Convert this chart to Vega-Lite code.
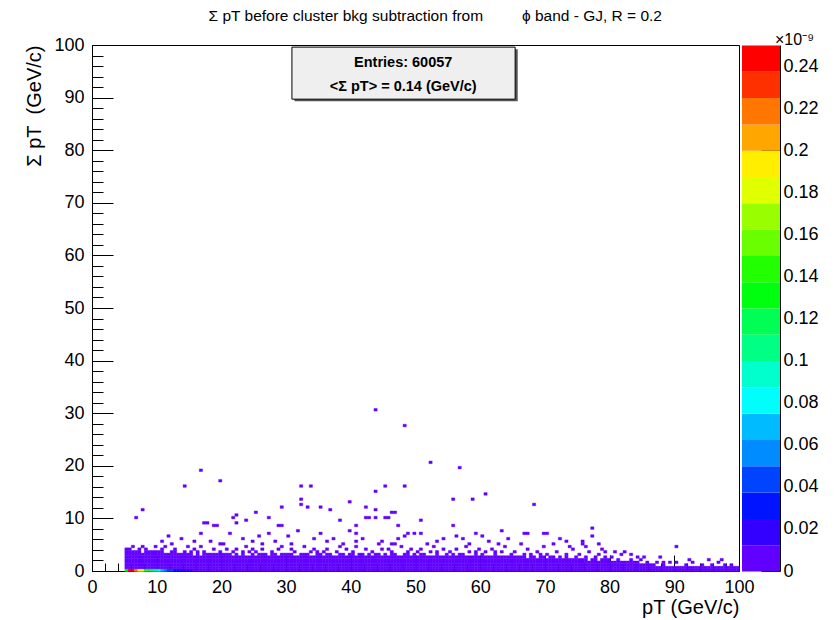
{
"$schema":"https://vega.github.io/schema/vega-lite/v6.json",
"padding":{"left":24,"top":8,"right":0,"bottom":0},
"bounds":"flush",
"spacing":3,
"title":{"text":"Σ pT before cluster bkg subtraction from\u00a0\u00a0\u00a0\u00a0\u00a0\u00a0\u00a0\u00a0 ϕ band - GJ, R = 0.2","anchor":"middle","dx":14,"fontSize":15.5,"fontWeight":"normal","font":"Liberation Sans","color":"black","offset":8},
"config":{"font":"Liberation Sans","axis":{"labelFont":"Liberation Sans","labelFontSize":18,"labelColor":"black","titleFont":"Liberation Sans","titleFontSize":20,"titleFontWeight":"normal","titleColor":"black","domainColor":"black","tickColor":"black","grid":false,"labelOverlap":false,"labelFlush":false,"zindex":1}},
"resolve":{"scale":{"x":"independent","y":"independent"}},
"datasets":{
"levels":[{"v":6.25},{"v":18.75},{"v":31.25},{"v":43.75},{"v":56.25},{"v":68.75},{"v":81.25},{"v":93.75},{"v":106.25},{"v":118.75},{"v":131.25},{"v":143.75},{"v":156.25},{"v":168.75},{"v":181.25},{"v":193.75},{"v":206.25},{"v":218.75},{"v":231.25},{"v":243.75}],
"cells":[
{"x":5,"y":0,"v":130},{"x":5,"y":0.5,"v":5},{"x":5,"y":1,"v":5},{"x":5,"y":1.5,"v":5},{"x":5,"y":2,"v":5},{"x":5,"y":2.5,"v":5},{"x":5,"y":3,"v":5},{"x":5,"y":3.5,"v":5},
{"x":5.5,"y":0,"v":245},{"x":5.5,"y":0.5,"v":5},{"x":5.5,"y":1,"v":5},{"x":5.5,"y":1.5,"v":5},{"x":5.5,"y":2,"v":5},{"x":5.5,"y":2.5,"v":5},{"x":5.5,"y":3,"v":5},{"x":5.5,"y":3.5,"v":5},
{"x":6,"y":0,"v":245},{"x":6,"y":0.5,"v":5},{"x":6,"y":1,"v":5},{"x":6,"y":1.5,"v":5},{"x":6,"y":2,"v":5},{"x":6,"y":2.5,"v":5},{"x":6,"y":3,"v":5},
{"x":6.5,"y":0,"v":215},{"x":6.5,"y":0.5,"v":5},{"x":6.5,"y":1,"v":5},{"x":6.5,"y":1.5,"v":5},{"x":6.5,"y":2,"v":5},{"x":6.5,"y":2.5,"v":5},{"x":6.5,"y":3,"v":5},{"x":6.5,"y":3.5,"v":5},
{"x":7,"y":0,"v":195},{"x":7,"y":0.5,"v":5},{"x":7,"y":1,"v":5},{"x":7,"y":1.5,"v":5},{"x":7,"y":2,"v":5},{"x":7,"y":2.5,"v":5},{"x":7,"y":3,"v":5},{"x":7,"y":3.5,"v":5},
{"x":7.5,"y":0,"v":180},{"x":7.5,"y":0.5,"v":5},{"x":7.5,"y":1,"v":5},{"x":7.5,"y":1.5,"v":5},{"x":7.5,"y":2,"v":5},{"x":7.5,"y":2.5,"v":5},{"x":7.5,"y":3,"v":5},
{"x":8,"y":0,"v":145},{"x":8,"y":0.5,"v":5},{"x":8,"y":1,"v":5},{"x":8,"y":1.5,"v":5},{"x":8,"y":2,"v":5},{"x":8,"y":2.5,"v":5},{"x":8,"y":3,"v":5},{"x":8,"y":3.5,"v":5},
{"x":8.5,"y":0,"v":130},{"x":8.5,"y":0.5,"v":5},{"x":8.5,"y":1,"v":5},{"x":8.5,"y":1.5,"v":5},{"x":8.5,"y":2,"v":5},{"x":8.5,"y":2.5,"v":5},{"x":8.5,"y":3,"v":5},
{"x":9,"y":0,"v":120},{"x":9,"y":0.5,"v":5},{"x":9,"y":1,"v":5},{"x":9,"y":1.5,"v":5},{"x":9,"y":2,"v":5},{"x":9,"y":2.5,"v":5},{"x":9,"y":3,"v":5},{"x":9,"y":3.5,"v":5},
{"x":9.5,"y":0,"v":105},{"x":9.5,"y":0.5,"v":5},{"x":9.5,"y":1,"v":5},{"x":9.5,"y":1.5,"v":5},{"x":9.5,"y":2,"v":5},{"x":9.5,"y":2.5,"v":5},{"x":9.5,"y":3,"v":5},
{"x":10,"y":0,"v":80},{"x":10,"y":0.5,"v":5},{"x":10,"y":1,"v":5},{"x":10,"y":1.5,"v":5},{"x":10,"y":2,"v":5},{"x":10,"y":2.5,"v":5},{"x":10,"y":3,"v":5},
{"x":10.5,"y":0,"v":70},{"x":10.5,"y":0.5,"v":5},{"x":10.5,"y":1,"v":5},{"x":10.5,"y":1.5,"v":5},{"x":10.5,"y":2,"v":5},{"x":10.5,"y":2.5,"v":5},{"x":10.5,"y":3,"v":5},{"x":10.5,"y":3.5,"v":5},
{"x":11,"y":0,"v":55},{"x":11,"y":0.5,"v":5},{"x":11,"y":1,"v":5},{"x":11,"y":1.5,"v":5},{"x":11,"y":2,"v":5},{"x":11,"y":2.5,"v":5},
{"x":11.5,"y":0,"v":45},{"x":11.5,"y":0.5,"v":5},{"x":11.5,"y":1,"v":5},{"x":11.5,"y":1.5,"v":5},{"x":11.5,"y":2,"v":5},{"x":11.5,"y":2.5,"v":5},{"x":11.5,"y":3,"v":5},
{"x":12,"y":0,"v":40},{"x":12,"y":0.5,"v":5},{"x":12,"y":1,"v":5},{"x":12,"y":1.5,"v":5},{"x":12,"y":2,"v":5},{"x":12,"y":2.5,"v":5},{"x":12,"y":3,"v":5},
{"x":12.5,"y":0,"v":30},{"x":12.5,"y":0.5,"v":5},{"x":12.5,"y":1,"v":5},{"x":12.5,"y":1.5,"v":5},{"x":12.5,"y":2,"v":5},{"x":12.5,"y":2.5,"v":5},{"x":12.5,"y":3,"v":5},{"x":12.5,"y":3.5,"v":5},
{"x":13,"y":0,"v":27},{"x":13,"y":0.5,"v":5},{"x":13,"y":1,"v":5},{"x":13,"y":1.5,"v":5},{"x":13,"y":2,"v":5},{"x":13,"y":2.5,"v":5},
{"x":13.5,"y":0,"v":20},{"x":13.5,"y":0.5,"v":5},{"x":13.5,"y":1,"v":5},{"x":13.5,"y":1.5,"v":5},{"x":13.5,"y":2,"v":5},{"x":13.5,"y":2.5,"v":5},{"x":13.5,"y":3,"v":5},
{"x":14,"y":0,"v":18},{"x":14,"y":0.5,"v":5},{"x":14,"y":1,"v":5},{"x":14,"y":1.5,"v":5},{"x":14,"y":2,"v":5},{"x":14,"y":2.5,"v":5},{"x":14,"y":3,"v":5},
{"x":14.5,"y":0,"v":15},{"x":14.5,"y":0.5,"v":5},{"x":14.5,"y":1,"v":5},{"x":14.5,"y":1.5,"v":5},{"x":14.5,"y":2,"v":5},{"x":14.5,"y":2.5,"v":5},
{"x":15,"y":0,"v":13},{"x":15,"y":0.5,"v":5},{"x":15,"y":1,"v":5},{"x":15,"y":1.5,"v":5},{"x":15,"y":2,"v":5},{"x":15,"y":2.5,"v":5},{"x":15,"y":3,"v":5},
{"x":15.5,"y":0,"v":5},{"x":15.5,"y":0.5,"v":5},{"x":15.5,"y":1,"v":5},{"x":15.5,"y":1.5,"v":5},{"x":15.5,"y":2,"v":5},{"x":15.5,"y":2.5,"v":5},
{"x":16,"y":0,"v":5},{"x":16,"y":0.5,"v":5},{"x":16,"y":1,"v":5},{"x":16,"y":1.5,"v":5},{"x":16,"y":2,"v":5},{"x":16,"y":2.5,"v":5},{"x":16,"y":3,"v":5},
{"x":16.5,"y":0,"v":5},{"x":16.5,"y":0.5,"v":5},{"x":16.5,"y":1,"v":5},{"x":16.5,"y":1.5,"v":5},{"x":16.5,"y":2,"v":5},{"x":16.5,"y":2.5,"v":5},
{"x":17,"y":0,"v":5},{"x":17,"y":0.5,"v":5},{"x":17,"y":1,"v":5},{"x":17,"y":1.5,"v":5},{"x":17,"y":2,"v":5},{"x":17,"y":2.5,"v":5},{"x":17,"y":3,"v":5},
{"x":17.5,"y":0,"v":5},{"x":17.5,"y":0.5,"v":5},{"x":17.5,"y":1,"v":5},{"x":17.5,"y":1.5,"v":5},{"x":17.5,"y":2,"v":5},{"x":17.5,"y":2.5,"v":5},{"x":17.5,"y":3,"v":5},
{"x":18,"y":0,"v":5},{"x":18,"y":0.5,"v":5},{"x":18,"y":1,"v":5},{"x":18,"y":1.5,"v":5},{"x":18,"y":2,"v":5},{"x":18,"y":2.5,"v":5},
{"x":18.5,"y":0,"v":5},{"x":18.5,"y":0.5,"v":5},{"x":18.5,"y":1,"v":5},{"x":18.5,"y":1.5,"v":5},{"x":18.5,"y":2,"v":5},{"x":18.5,"y":2.5,"v":5},{"x":18.5,"y":3,"v":5},
{"x":19,"y":0,"v":5},{"x":19,"y":0.5,"v":5},{"x":19,"y":1,"v":5},{"x":19,"y":1.5,"v":5},{"x":19,"y":2,"v":5},{"x":19,"y":2.5,"v":5},
{"x":19.5,"y":0,"v":5},{"x":19.5,"y":0.5,"v":5},{"x":19.5,"y":1,"v":5},{"x":19.5,"y":1.5,"v":5},{"x":19.5,"y":2,"v":5},{"x":19.5,"y":2.5,"v":5},{"x":19.5,"y":3,"v":5},
{"x":20,"y":0,"v":5},{"x":20,"y":0.5,"v":5},{"x":20,"y":1,"v":5},{"x":20,"y":1.5,"v":5},{"x":20,"y":2,"v":5},{"x":20,"y":2.5,"v":5},
{"x":20.5,"y":0,"v":5},{"x":20.5,"y":0.5,"v":5},{"x":20.5,"y":1,"v":5},{"x":20.5,"y":1.5,"v":5},{"x":20.5,"y":2,"v":5},{"x":20.5,"y":2.5,"v":5},{"x":20.5,"y":3,"v":5},
{"x":21,"y":0,"v":5},{"x":21,"y":0.5,"v":5},{"x":21,"y":1,"v":5},{"x":21,"y":1.5,"v":5},{"x":21,"y":2,"v":5},{"x":21,"y":2.5,"v":5},
{"x":21.5,"y":0,"v":5},{"x":21.5,"y":0.5,"v":5},{"x":21.5,"y":1,"v":5},{"x":21.5,"y":1.5,"v":5},{"x":21.5,"y":2,"v":5},{"x":21.5,"y":2.5,"v":5},
{"x":22,"y":0,"v":5},{"x":22,"y":0.5,"v":5},{"x":22,"y":1,"v":5},{"x":22,"y":1.5,"v":5},{"x":22,"y":2,"v":5},{"x":22,"y":2.5,"v":5},{"x":22,"y":3,"v":5},
{"x":22.5,"y":0,"v":5},{"x":22.5,"y":0.5,"v":5},{"x":22.5,"y":1,"v":5},{"x":22.5,"y":1.5,"v":5},{"x":22.5,"y":2,"v":5},{"x":22.5,"y":2.5,"v":5},
{"x":23,"y":0,"v":5},{"x":23,"y":0.5,"v":5},{"x":23,"y":1,"v":5},{"x":23,"y":1.5,"v":5},{"x":23,"y":2,"v":5},{"x":23,"y":2.5,"v":5},{"x":23,"y":3,"v":5},
{"x":23.5,"y":0,"v":5},{"x":23.5,"y":0.5,"v":5},{"x":23.5,"y":1,"v":5},{"x":23.5,"y":1.5,"v":5},{"x":23.5,"y":2,"v":5},{"x":23.5,"y":2.5,"v":5},
{"x":24,"y":0,"v":5},{"x":24,"y":0.5,"v":5},{"x":24,"y":1,"v":5},{"x":24,"y":1.5,"v":5},{"x":24,"y":2,"v":5},{"x":24,"y":2.5,"v":5},
{"x":24.5,"y":0,"v":5},{"x":24.5,"y":0.5,"v":5},{"x":24.5,"y":1,"v":5},{"x":24.5,"y":1.5,"v":5},{"x":24.5,"y":2,"v":5},{"x":24.5,"y":2.5,"v":5},{"x":24.5,"y":3,"v":5},
{"x":25,"y":0,"v":5},{"x":25,"y":0.5,"v":5},{"x":25,"y":1,"v":5},{"x":25,"y":1.5,"v":5},{"x":25,"y":2,"v":5},{"x":25,"y":2.5,"v":5},
{"x":25.5,"y":0,"v":5},{"x":25.5,"y":0.5,"v":5},{"x":25.5,"y":1,"v":5},{"x":25.5,"y":1.5,"v":5},{"x":25.5,"y":2,"v":5},{"x":25.5,"y":2.5,"v":5},
{"x":26,"y":0,"v":5},{"x":26,"y":0.5,"v":5},{"x":26,"y":1,"v":5},{"x":26,"y":1.5,"v":5},{"x":26,"y":2,"v":5},{"x":26,"y":2.5,"v":5},{"x":26,"y":3,"v":5},
{"x":26.5,"y":0,"v":5},{"x":26.5,"y":0.5,"v":5},{"x":26.5,"y":1,"v":5},{"x":26.5,"y":1.5,"v":5},{"x":26.5,"y":2,"v":5},{"x":26.5,"y":2.5,"v":5},
{"x":27,"y":0,"v":5},{"x":27,"y":0.5,"v":5},{"x":27,"y":1,"v":5},{"x":27,"y":1.5,"v":5},{"x":27,"y":2,"v":5},{"x":27,"y":2.5,"v":5},
{"x":27.5,"y":0,"v":5},{"x":27.5,"y":0.5,"v":5},{"x":27.5,"y":1,"v":5},{"x":27.5,"y":1.5,"v":5},{"x":27.5,"y":2,"v":5},{"x":27.5,"y":2.5,"v":5},{"x":27.5,"y":3,"v":5},
{"x":28,"y":0,"v":5},{"x":28,"y":0.5,"v":5},{"x":28,"y":1,"v":5},{"x":28,"y":1.5,"v":5},{"x":28,"y":2,"v":5},{"x":28,"y":2.5,"v":5},
{"x":28.5,"y":0,"v":5},{"x":28.5,"y":0.5,"v":5},{"x":28.5,"y":1,"v":5},{"x":28.5,"y":1.5,"v":5},{"x":28.5,"y":2,"v":5},{"x":28.5,"y":2.5,"v":5},
{"x":29,"y":0,"v":5},{"x":29,"y":0.5,"v":5},{"x":29,"y":1,"v":5},{"x":29,"y":1.5,"v":5},{"x":29,"y":2,"v":5},{"x":29,"y":2.5,"v":5},{"x":29,"y":3,"v":5},
{"x":29.5,"y":0,"v":5},{"x":29.5,"y":0.5,"v":5},{"x":29.5,"y":1,"v":5},{"x":29.5,"y":1.5,"v":5},{"x":29.5,"y":2,"v":5},{"x":29.5,"y":2.5,"v":5},
{"x":30,"y":0,"v":5},{"x":30,"y":0.5,"v":5},{"x":30,"y":1,"v":5},{"x":30,"y":1.5,"v":5},{"x":30,"y":2,"v":5},{"x":30,"y":2.5,"v":5},
{"x":30.5,"y":0,"v":5},{"x":30.5,"y":0.5,"v":5},{"x":30.5,"y":1,"v":5},{"x":30.5,"y":1.5,"v":5},{"x":30.5,"y":2,"v":5},{"x":30.5,"y":2.5,"v":5},{"x":30.5,"y":3,"v":5},
{"x":31,"y":0,"v":5},{"x":31,"y":0.5,"v":5},{"x":31,"y":1,"v":5},{"x":31,"y":1.5,"v":5},{"x":31,"y":2,"v":5},{"x":31,"y":2.5,"v":5},
{"x":31.5,"y":0,"v":5},{"x":31.5,"y":0.5,"v":5},{"x":31.5,"y":1,"v":5},{"x":31.5,"y":1.5,"v":5},{"x":31.5,"y":2,"v":5},{"x":31.5,"y":2.5,"v":5},
{"x":32,"y":0,"v":5},{"x":32,"y":0.5,"v":5},{"x":32,"y":1,"v":5},{"x":32,"y":1.5,"v":5},{"x":32,"y":2,"v":5},{"x":32,"y":2.5,"v":5},
{"x":32.5,"y":0,"v":5},{"x":32.5,"y":0.5,"v":5},{"x":32.5,"y":1,"v":5},{"x":32.5,"y":1.5,"v":5},{"x":32.5,"y":2,"v":5},{"x":32.5,"y":2.5,"v":5},{"x":32.5,"y":3,"v":5},
{"x":33,"y":0,"v":5},{"x":33,"y":0.5,"v":5},{"x":33,"y":1,"v":5},{"x":33,"y":1.5,"v":5},{"x":33,"y":2,"v":5},{"x":33,"y":2.5,"v":5},
{"x":33.5,"y":0,"v":5},{"x":33.5,"y":0.5,"v":5},{"x":33.5,"y":1,"v":5},{"x":33.5,"y":1.5,"v":5},{"x":33.5,"y":2,"v":5},{"x":33.5,"y":2.5,"v":5},
{"x":34,"y":0,"v":5},{"x":34,"y":0.5,"v":5},{"x":34,"y":1,"v":5},{"x":34,"y":1.5,"v":5},{"x":34,"y":2,"v":5},{"x":34,"y":2.5,"v":5},
{"x":34.5,"y":0,"v":5},{"x":34.5,"y":0.5,"v":5},{"x":34.5,"y":1,"v":5},{"x":34.5,"y":1.5,"v":5},{"x":34.5,"y":2,"v":5},{"x":34.5,"y":2.5,"v":5},{"x":34.5,"y":3,"v":5},
{"x":35,"y":0,"v":5},{"x":35,"y":0.5,"v":5},{"x":35,"y":1,"v":5},{"x":35,"y":1.5,"v":5},{"x":35,"y":2,"v":5},{"x":35,"y":2.5,"v":5},
{"x":35.5,"y":0,"v":5},{"x":35.5,"y":0.5,"v":5},{"x":35.5,"y":1,"v":5},{"x":35.5,"y":1.5,"v":5},{"x":35.5,"y":2,"v":5},{"x":35.5,"y":2.5,"v":5},
{"x":36,"y":0,"v":5},{"x":36,"y":0.5,"v":5},{"x":36,"y":1,"v":5},{"x":36,"y":1.5,"v":5},{"x":36,"y":2,"v":5},{"x":36,"y":2.5,"v":5},{"x":36,"y":3,"v":5},
{"x":36.5,"y":0,"v":5},{"x":36.5,"y":0.5,"v":5},{"x":36.5,"y":1,"v":5},{"x":36.5,"y":1.5,"v":5},{"x":36.5,"y":2,"v":5},{"x":36.5,"y":2.5,"v":5},
{"x":37,"y":0,"v":5},{"x":37,"y":0.5,"v":5},{"x":37,"y":1,"v":5},{"x":37,"y":1.5,"v":5},{"x":37,"y":2,"v":5},{"x":37,"y":2.5,"v":5},
{"x":37.5,"y":0,"v":5},{"x":37.5,"y":0.5,"v":5},{"x":37.5,"y":1,"v":5},{"x":37.5,"y":1.5,"v":5},{"x":37.5,"y":2,"v":5},{"x":37.5,"y":2.5,"v":5},
{"x":38,"y":0,"v":5},{"x":38,"y":0.5,"v":5},{"x":38,"y":1,"v":5},{"x":38,"y":1.5,"v":5},{"x":38,"y":2,"v":5},{"x":38,"y":2.5,"v":5},{"x":38,"y":3,"v":5},
{"x":38.5,"y":0,"v":5},{"x":38.5,"y":0.5,"v":5},{"x":38.5,"y":1,"v":5},{"x":38.5,"y":1.5,"v":5},{"x":38.5,"y":2,"v":5},{"x":38.5,"y":2.5,"v":5},
{"x":39,"y":0,"v":5},{"x":39,"y":0.5,"v":5},{"x":39,"y":1,"v":5},{"x":39,"y":1.5,"v":5},{"x":39,"y":2,"v":5},{"x":39,"y":2.5,"v":5},
{"x":39.5,"y":0,"v":5},{"x":39.5,"y":0.5,"v":5},{"x":39.5,"y":1,"v":5},{"x":39.5,"y":1.5,"v":5},{"x":39.5,"y":2,"v":5},{"x":39.5,"y":2.5,"v":5},
{"x":40,"y":0,"v":5},{"x":40,"y":0.5,"v":5},{"x":40,"y":1,"v":5},{"x":40,"y":1.5,"v":5},{"x":40,"y":2,"v":5},{"x":40,"y":2.5,"v":5},{"x":40,"y":3,"v":5},
{"x":40.5,"y":0,"v":5},{"x":40.5,"y":0.5,"v":5},{"x":40.5,"y":1,"v":5},{"x":40.5,"y":1.5,"v":5},{"x":40.5,"y":2,"v":5},{"x":40.5,"y":2.5,"v":5},
{"x":41,"y":0,"v":5},{"x":41,"y":0.5,"v":5},{"x":41,"y":1,"v":5},{"x":41,"y":1.5,"v":5},{"x":41,"y":2,"v":5},{"x":41,"y":2.5,"v":5},
{"x":41.5,"y":0,"v":5},{"x":41.5,"y":0.5,"v":5},{"x":41.5,"y":1,"v":5},{"x":41.5,"y":1.5,"v":5},{"x":41.5,"y":2,"v":5},{"x":41.5,"y":2.5,"v":5},{"x":41.5,"y":3,"v":5},
{"x":42,"y":0,"v":5},{"x":42,"y":0.5,"v":5},{"x":42,"y":1,"v":5},{"x":42,"y":1.5,"v":5},{"x":42,"y":2,"v":5},{"x":42,"y":2.5,"v":5},
{"x":42.5,"y":0,"v":5},{"x":42.5,"y":0.5,"v":5},{"x":42.5,"y":1,"v":5},{"x":42.5,"y":1.5,"v":5},{"x":42.5,"y":2,"v":5},{"x":42.5,"y":2.5,"v":5},
{"x":43,"y":0,"v":5},{"x":43,"y":0.5,"v":5},{"x":43,"y":1,"v":5},{"x":43,"y":1.5,"v":5},{"x":43,"y":2,"v":5},{"x":43,"y":2.5,"v":5},
{"x":43.5,"y":0,"v":5},{"x":43.5,"y":0.5,"v":5},{"x":43.5,"y":1,"v":5},{"x":43.5,"y":1.5,"v":5},{"x":43.5,"y":2,"v":5},{"x":43.5,"y":2.5,"v":5},{"x":43.5,"y":3,"v":5},
{"x":44,"y":0,"v":5},{"x":44,"y":0.5,"v":5},{"x":44,"y":1,"v":5},{"x":44,"y":1.5,"v":5},{"x":44,"y":2,"v":5},{"x":44,"y":2.5,"v":5},
{"x":44.5,"y":0,"v":5},{"x":44.5,"y":0.5,"v":5},{"x":44.5,"y":1,"v":5},{"x":44.5,"y":1.5,"v":5},{"x":44.5,"y":2,"v":5},{"x":44.5,"y":2.5,"v":5},
{"x":45,"y":0,"v":5},{"x":45,"y":0.5,"v":5},{"x":45,"y":1,"v":5},{"x":45,"y":1.5,"v":5},{"x":45,"y":2,"v":5},{"x":45,"y":2.5,"v":5},
{"x":45.5,"y":0,"v":5},{"x":45.5,"y":0.5,"v":5},{"x":45.5,"y":1,"v":5},{"x":45.5,"y":1.5,"v":5},{"x":45.5,"y":2,"v":5},{"x":45.5,"y":2.5,"v":5},
{"x":46,"y":0,"v":5},{"x":46,"y":0.5,"v":5},{"x":46,"y":1,"v":5},{"x":46,"y":1.5,"v":5},{"x":46,"y":2,"v":5},{"x":46,"y":2.5,"v":5},{"x":46,"y":3,"v":5},
{"x":46.5,"y":0,"v":5},{"x":46.5,"y":0.5,"v":5},{"x":46.5,"y":1,"v":5},{"x":46.5,"y":1.5,"v":5},{"x":46.5,"y":2,"v":5},{"x":46.5,"y":2.5,"v":5},
{"x":47,"y":0,"v":5},{"x":47,"y":0.5,"v":5},{"x":47,"y":1,"v":5},{"x":47,"y":1.5,"v":5},{"x":47,"y":2,"v":5},{"x":47,"y":2.5,"v":5},
{"x":47.5,"y":0,"v":5},{"x":47.5,"y":0.5,"v":5},{"x":47.5,"y":1,"v":5},{"x":47.5,"y":1.5,"v":5},{"x":47.5,"y":2,"v":5},{"x":47.5,"y":2.5,"v":5},
{"x":48,"y":0,"v":5},{"x":48,"y":0.5,"v":5},{"x":48,"y":1,"v":5},{"x":48,"y":1.5,"v":5},{"x":48,"y":2,"v":5},{"x":48,"y":2.5,"v":5},
{"x":48.5,"y":0,"v":5},{"x":48.5,"y":0.5,"v":5},{"x":48.5,"y":1,"v":5},{"x":48.5,"y":1.5,"v":5},{"x":48.5,"y":2,"v":5},{"x":48.5,"y":2.5,"v":5},{"x":48.5,"y":3,"v":5},
{"x":49,"y":0,"v":5},{"x":49,"y":0.5,"v":5},{"x":49,"y":1,"v":5},{"x":49,"y":1.5,"v":5},{"x":49,"y":2,"v":5},{"x":49,"y":2.5,"v":5},
{"x":49.5,"y":0,"v":5},{"x":49.5,"y":0.5,"v":5},{"x":49.5,"y":1,"v":5},{"x":49.5,"y":1.5,"v":5},{"x":49.5,"y":2,"v":5},{"x":49.5,"y":2.5,"v":5},
{"x":50,"y":0,"v":5},{"x":50,"y":0.5,"v":5},{"x":50,"y":1,"v":5},{"x":50,"y":1.5,"v":5},{"x":50,"y":2,"v":5},{"x":50,"y":2.5,"v":5},
{"x":50.5,"y":0,"v":5},{"x":50.5,"y":0.5,"v":5},{"x":50.5,"y":1,"v":5},{"x":50.5,"y":1.5,"v":5},{"x":50.5,"y":2,"v":5},{"x":50.5,"y":2.5,"v":5},{"x":50.5,"y":3,"v":5},
{"x":51,"y":0,"v":5},{"x":51,"y":0.5,"v":5},{"x":51,"y":1,"v":5},{"x":51,"y":1.5,"v":5},{"x":51,"y":2,"v":5},{"x":51,"y":2.5,"v":5},
{"x":51.5,"y":0,"v":5},{"x":51.5,"y":0.5,"v":5},{"x":51.5,"y":1,"v":5},{"x":51.5,"y":1.5,"v":5},{"x":51.5,"y":2,"v":5},{"x":51.5,"y":2.5,"v":5},
{"x":52,"y":0,"v":5},{"x":52,"y":0.5,"v":5},{"x":52,"y":1,"v":5},{"x":52,"y":1.5,"v":5},{"x":52,"y":2,"v":5},{"x":52,"y":2.5,"v":5},
{"x":52.5,"y":0,"v":5},{"x":52.5,"y":0.5,"v":5},{"x":52.5,"y":1,"v":5},{"x":52.5,"y":1.5,"v":5},{"x":52.5,"y":2,"v":5},{"x":52.5,"y":2.5,"v":5},
{"x":53,"y":0,"v":5},{"x":53,"y":0.5,"v":5},{"x":53,"y":1,"v":5},{"x":53,"y":1.5,"v":5},{"x":53,"y":2,"v":5},{"x":53,"y":2.5,"v":5},{"x":53,"y":3,"v":5},
{"x":53.5,"y":0,"v":5},{"x":53.5,"y":0.5,"v":5},{"x":53.5,"y":1,"v":5},{"x":53.5,"y":1.5,"v":5},{"x":53.5,"y":2,"v":5},{"x":53.5,"y":2.5,"v":5},
{"x":54,"y":0,"v":5},{"x":54,"y":0.5,"v":5},{"x":54,"y":1,"v":5},{"x":54,"y":1.5,"v":5},{"x":54,"y":2,"v":5},{"x":54,"y":2.5,"v":5},
{"x":54.5,"y":0,"v":5},{"x":54.5,"y":0.5,"v":5},{"x":54.5,"y":1,"v":5},{"x":54.5,"y":1.5,"v":5},{"x":54.5,"y":2,"v":5},{"x":54.5,"y":2.5,"v":5},
{"x":55,"y":0,"v":5},{"x":55,"y":0.5,"v":5},{"x":55,"y":1,"v":5},{"x":55,"y":1.5,"v":5},{"x":55,"y":2,"v":5},{"x":55,"y":2.5,"v":5},
{"x":55.5,"y":0,"v":5},{"x":55.5,"y":0.5,"v":5},{"x":55.5,"y":1,"v":5},{"x":55.5,"y":1.5,"v":5},{"x":55.5,"y":2,"v":5},{"x":55.5,"y":2.5,"v":5},
{"x":56,"y":0,"v":5},{"x":56,"y":0.5,"v":5},{"x":56,"y":1,"v":5},{"x":56,"y":1.5,"v":5},{"x":56,"y":2,"v":5},{"x":56,"y":2.5,"v":5},
{"x":56.5,"y":0,"v":5},{"x":56.5,"y":0.5,"v":5},{"x":56.5,"y":1,"v":5},{"x":56.5,"y":1.5,"v":5},{"x":56.5,"y":2,"v":5},{"x":56.5,"y":2.5,"v":5},{"x":56.5,"y":3,"v":5},
{"x":57,"y":0,"v":5},{"x":57,"y":0.5,"v":5},{"x":57,"y":1,"v":5},{"x":57,"y":1.5,"v":5},{"x":57,"y":2,"v":5},{"x":57,"y":2.5,"v":5},
{"x":57.5,"y":0,"v":5},{"x":57.5,"y":0.5,"v":5},{"x":57.5,"y":1,"v":5},{"x":57.5,"y":1.5,"v":5},{"x":57.5,"y":2,"v":5},{"x":57.5,"y":2.5,"v":5},
{"x":58,"y":0,"v":5},{"x":58,"y":0.5,"v":5},{"x":58,"y":1,"v":5},{"x":58,"y":1.5,"v":5},{"x":58,"y":2,"v":5},{"x":58,"y":2.5,"v":5},
{"x":58.5,"y":0,"v":5},{"x":58.5,"y":0.5,"v":5},{"x":58.5,"y":1,"v":5},{"x":58.5,"y":1.5,"v":5},{"x":58.5,"y":2,"v":5},{"x":58.5,"y":2.5,"v":5},
{"x":59,"y":0,"v":5},{"x":59,"y":0.5,"v":5},{"x":59,"y":1,"v":5},{"x":59,"y":1.5,"v":5},{"x":59,"y":2,"v":5},{"x":59,"y":2.5,"v":5},{"x":59,"y":3,"v":5},
{"x":59.5,"y":0,"v":5},{"x":59.5,"y":0.5,"v":5},{"x":59.5,"y":1,"v":5},{"x":59.5,"y":1.5,"v":5},{"x":59.5,"y":2,"v":5},{"x":59.5,"y":2.5,"v":5},
{"x":60,"y":0,"v":5},{"x":60,"y":0.5,"v":5},{"x":60,"y":1,"v":5},{"x":60,"y":1.5,"v":5},{"x":60,"y":2,"v":5},{"x":60,"y":2.5,"v":5},
{"x":60.5,"y":0,"v":5},{"x":60.5,"y":0.5,"v":5},{"x":60.5,"y":1,"v":5},{"x":60.5,"y":1.5,"v":5},{"x":60.5,"y":2,"v":5},{"x":60.5,"y":2.5,"v":5},
{"x":61,"y":0,"v":5},{"x":61,"y":0.5,"v":5},{"x":61,"y":1,"v":5},{"x":61,"y":1.5,"v":5},{"x":61,"y":2,"v":5},{"x":61,"y":2.5,"v":5},
{"x":61.5,"y":0,"v":5},{"x":61.5,"y":0.5,"v":5},{"x":61.5,"y":1,"v":5},{"x":61.5,"y":1.5,"v":5},{"x":61.5,"y":2,"v":5},{"x":61.5,"y":2.5,"v":5},
{"x":62,"y":0,"v":5},{"x":62,"y":0.5,"v":5},{"x":62,"y":1,"v":5},{"x":62,"y":1.5,"v":5},{"x":62,"y":2,"v":5},{"x":62,"y":2.5,"v":5},{"x":62,"y":3,"v":5},
{"x":62.5,"y":0,"v":5},{"x":62.5,"y":0.5,"v":5},{"x":62.5,"y":1,"v":5},{"x":62.5,"y":1.5,"v":5},{"x":62.5,"y":2,"v":5},{"x":62.5,"y":2.5,"v":5},
{"x":63,"y":0,"v":5},{"x":63,"y":0.5,"v":5},{"x":63,"y":1,"v":5},{"x":63,"y":1.5,"v":5},{"x":63,"y":2,"v":5},{"x":63,"y":2.5,"v":5},
{"x":63.5,"y":0,"v":5},{"x":63.5,"y":0.5,"v":5},{"x":63.5,"y":1,"v":5},{"x":63.5,"y":1.5,"v":5},{"x":63.5,"y":2,"v":5},{"x":63.5,"y":2.5,"v":5},
{"x":64,"y":0,"v":5},{"x":64,"y":0.5,"v":5},{"x":64,"y":1,"v":5},{"x":64,"y":1.5,"v":5},{"x":64,"y":2,"v":5},{"x":64,"y":2.5,"v":5},
{"x":64.5,"y":0,"v":5},{"x":64.5,"y":0.5,"v":5},{"x":64.5,"y":1,"v":5},{"x":64.5,"y":1.5,"v":5},{"x":64.5,"y":2,"v":5},{"x":64.5,"y":2.5,"v":5},
{"x":65,"y":0,"v":5},{"x":65,"y":0.5,"v":5},{"x":65,"y":1,"v":5},{"x":65,"y":1.5,"v":5},{"x":65,"y":2,"v":5},{"x":65,"y":2.5,"v":5},
{"x":65.5,"y":0,"v":5},{"x":65.5,"y":0.5,"v":5},{"x":65.5,"y":1,"v":5},{"x":65.5,"y":1.5,"v":5},{"x":65.5,"y":2,"v":5},
{"x":66,"y":0,"v":5},{"x":66,"y":0.5,"v":5},{"x":66,"y":1,"v":5},{"x":66,"y":1.5,"v":5},{"x":66,"y":2,"v":5},{"x":66,"y":2.5,"v":5},
{"x":66.5,"y":0,"v":5},{"x":66.5,"y":0.5,"v":5},{"x":66.5,"y":1,"v":5},{"x":66.5,"y":1.5,"v":5},{"x":66.5,"y":2,"v":5},{"x":66.5,"y":2.5,"v":5},
{"x":67,"y":0,"v":5},{"x":67,"y":0.5,"v":5},{"x":67,"y":1,"v":5},{"x":67,"y":1.5,"v":5},{"x":67,"y":2,"v":5},
{"x":67.5,"y":0,"v":5},{"x":67.5,"y":0.5,"v":5},{"x":67.5,"y":1,"v":5},{"x":67.5,"y":1.5,"v":5},{"x":67.5,"y":2,"v":5},{"x":67.5,"y":2.5,"v":5},
{"x":68,"y":0,"v":5},{"x":68,"y":0.5,"v":5},{"x":68,"y":1,"v":5},{"x":68,"y":1.5,"v":5},{"x":68,"y":2,"v":5},{"x":68,"y":2.5,"v":5},
{"x":68.5,"y":0,"v":5},{"x":68.5,"y":0.5,"v":5},{"x":68.5,"y":1,"v":5},{"x":68.5,"y":1.5,"v":5},{"x":68.5,"y":2,"v":5},
{"x":69,"y":0,"v":5},{"x":69,"y":0.5,"v":5},{"x":69,"y":1,"v":5},{"x":69,"y":1.5,"v":5},{"x":69,"y":2,"v":5},{"x":69,"y":2.5,"v":5},
{"x":69.5,"y":0,"v":5},{"x":69.5,"y":0.5,"v":5},{"x":69.5,"y":1,"v":5},{"x":69.5,"y":1.5,"v":5},{"x":69.5,"y":2,"v":5},{"x":69.5,"y":2.5,"v":5},
{"x":70,"y":0,"v":5},{"x":70,"y":0.5,"v":5},{"x":70,"y":1,"v":5},{"x":70,"y":1.5,"v":5},{"x":70,"y":2,"v":5},
{"x":70.5,"y":0,"v":5},{"x":70.5,"y":0.5,"v":5},{"x":70.5,"y":1,"v":5},{"x":70.5,"y":1.5,"v":5},{"x":70.5,"y":2,"v":5},
{"x":71,"y":0,"v":5},{"x":71,"y":0.5,"v":5},{"x":71,"y":1,"v":5},{"x":71,"y":1.5,"v":5},{"x":71,"y":2,"v":5},{"x":71,"y":2.5,"v":5},
{"x":71.5,"y":0,"v":5},{"x":71.5,"y":0.5,"v":5},{"x":71.5,"y":1,"v":5},{"x":71.5,"y":1.5,"v":5},{"x":71.5,"y":2,"v":5},
{"x":72,"y":0,"v":5},{"x":72,"y":0.5,"v":5},{"x":72,"y":1,"v":5},{"x":72,"y":1.5,"v":5},{"x":72,"y":2,"v":5},
{"x":72.5,"y":0,"v":5},{"x":72.5,"y":0.5,"v":5},{"x":72.5,"y":1,"v":5},{"x":72.5,"y":1.5,"v":5},{"x":72.5,"y":2,"v":5},
{"x":73,"y":0,"v":5},{"x":73,"y":0.5,"v":5},{"x":73,"y":1,"v":5},{"x":73,"y":1.5,"v":5},{"x":73,"y":2,"v":5},{"x":73,"y":2.5,"v":5},
{"x":73.5,"y":0,"v":5},{"x":73.5,"y":0.5,"v":5},{"x":73.5,"y":1,"v":5},{"x":73.5,"y":1.5,"v":5},{"x":73.5,"y":2,"v":5},
{"x":74,"y":0,"v":5},{"x":74,"y":0.5,"v":5},{"x":74,"y":1,"v":5},{"x":74,"y":1.5,"v":5},{"x":74,"y":2,"v":5},
{"x":74.5,"y":0,"v":5},{"x":74.5,"y":0.5,"v":5},{"x":74.5,"y":1,"v":5},{"x":74.5,"y":1.5,"v":5},{"x":74.5,"y":2,"v":5},
{"x":75,"y":0,"v":5},{"x":75,"y":0.5,"v":5},{"x":75,"y":1,"v":5},{"x":75,"y":1.5,"v":5},{"x":75,"y":2,"v":5},
{"x":75.5,"y":0,"v":5},{"x":75.5,"y":0.5,"v":5},{"x":75.5,"y":1,"v":5},{"x":75.5,"y":1.5,"v":5},{"x":75.5,"y":2,"v":5},
{"x":76,"y":0,"v":5},{"x":76,"y":0.5,"v":5},{"x":76,"y":1,"v":5},{"x":76,"y":1.5,"v":5},{"x":76,"y":2,"v":5},
{"x":76.5,"y":0,"v":5},{"x":76.5,"y":0.5,"v":5},{"x":76.5,"y":1,"v":5},{"x":76.5,"y":1.5,"v":5},
{"x":77,"y":0,"v":5},{"x":77,"y":0.5,"v":5},{"x":77,"y":1,"v":5},{"x":77,"y":1.5,"v":5},{"x":77,"y":2,"v":5},
{"x":77.5,"y":0,"v":5},{"x":77.5,"y":0.5,"v":5},{"x":77.5,"y":1,"v":5},{"x":77.5,"y":1.5,"v":5},{"x":77.5,"y":2,"v":5},
{"x":78,"y":0,"v":5},{"x":78,"y":0.5,"v":5},{"x":78,"y":1,"v":5},{"x":78,"y":1.5,"v":5},
{"x":78.5,"y":0,"v":5},{"x":78.5,"y":0.5,"v":5},{"x":78.5,"y":1,"v":5},{"x":78.5,"y":1.5,"v":5},{"x":78.5,"y":2,"v":5},
{"x":79,"y":0,"v":5},{"x":79,"y":0.5,"v":5},{"x":79,"y":1,"v":5},{"x":79,"y":1.5,"v":5},{"x":79,"y":2,"v":5},
{"x":79.5,"y":0,"v":5},{"x":79.5,"y":0.5,"v":5},{"x":79.5,"y":1,"v":5},{"x":79.5,"y":1.5,"v":5},
{"x":80,"y":0,"v":5},{"x":80,"y":0.5,"v":5},{"x":80,"y":1,"v":5},{"x":80,"y":1.5,"v":5},
{"x":80.5,"y":0,"v":5},{"x":80.5,"y":0.5,"v":5},{"x":80.5,"y":1,"v":5},{"x":80.5,"y":1.5,"v":5},
{"x":81,"y":0,"v":5},{"x":81,"y":0.5,"v":5},{"x":81,"y":1,"v":5},{"x":81,"y":1.5,"v":5},
{"x":81.5,"y":0,"v":5},{"x":81.5,"y":0.5,"v":5},{"x":81.5,"y":1,"v":5},{"x":81.5,"y":1.5,"v":5},
{"x":82,"y":0,"v":5},{"x":82,"y":0.5,"v":5},{"x":82,"y":1,"v":5},
{"x":82.5,"y":0,"v":5},{"x":82.5,"y":0.5,"v":5},{"x":82.5,"y":1,"v":5},{"x":82.5,"y":1.5,"v":5},
{"x":83,"y":0,"v":5},{"x":83,"y":0.5,"v":5},{"x":83,"y":1,"v":5},{"x":83,"y":1.5,"v":5},
{"x":83.5,"y":0,"v":5},{"x":83.5,"y":0.5,"v":5},{"x":83.5,"y":1,"v":5},
{"x":84,"y":0,"v":5},{"x":84,"y":0.5,"v":5},{"x":84,"y":1,"v":5},{"x":84,"y":1.5,"v":5},
{"x":84.5,"y":0,"v":5},{"x":84.5,"y":0.5,"v":5},{"x":84.5,"y":1,"v":5},
{"x":85,"y":0,"v":5},{"x":85,"y":0.5,"v":5},{"x":85,"y":1,"v":5},
{"x":85.5,"y":0,"v":5},{"x":85.5,"y":0.5,"v":5},{"x":85.5,"y":1,"v":5},
{"x":86,"y":0,"v":5},{"x":86,"y":0.5,"v":5},
{"x":86.5,"y":0,"v":5},{"x":86.5,"y":0.5,"v":5},{"x":86.5,"y":1,"v":5},
{"x":87,"y":0,"v":5},{"x":87,"y":0.5,"v":5},
{"x":87.5,"y":0,"v":5},{"x":87.5,"y":0.5,"v":5},
{"x":88,"y":0,"v":5},{"x":88,"y":0.5,"v":5},{"x":88,"y":1,"v":5},
{"x":88.5,"y":0,"v":5},{"x":88.5,"y":0.5,"v":5},
{"x":89,"y":0,"v":5},{"x":89,"y":0.5,"v":5},
{"x":89.5,"y":0,"v":5},{"x":89.5,"y":0.5,"v":5},
{"x":90,"y":0,"v":5},{"x":90,"y":0.5,"v":5},
{"x":90.5,"y":0,"v":5},{"x":90.5,"y":0.5,"v":5},
{"x":91,"y":0,"v":5},{"x":91,"y":0.5,"v":5},
{"x":91.5,"y":0,"v":5},{"x":91.5,"y":0.5,"v":5},
{"x":92,"y":0,"v":5},{"x":92,"y":0.5,"v":5},
{"x":92.5,"y":0,"v":5},{"x":92.5,"y":0.5,"v":5},
{"x":93,"y":0,"v":5},{"x":93,"y":0.5,"v":5},
{"x":93.5,"y":0,"v":5},{"x":93.5,"y":0.5,"v":5},
{"x":94,"y":0,"v":5},{"x":94,"y":0.5,"v":5},
{"x":94.5,"y":0,"v":5},{"x":94.5,"y":0.5,"v":5},
{"x":95,"y":0,"v":5},{"x":95,"y":0.5,"v":5},
{"x":95.5,"y":0,"v":5},{"x":95.5,"y":0.5,"v":5},
{"x":96,"y":0,"v":5},{"x":96,"y":0.5,"v":5},
{"x":96.5,"y":0,"v":5},{"x":96.5,"y":0.5,"v":5},
{"x":97,"y":0,"v":5},{"x":97,"y":0.5,"v":5},
{"x":97.5,"y":0,"v":5},{"x":97.5,"y":0.5,"v":5},
{"x":98,"y":0,"v":5},{"x":98,"y":0.5,"v":5},
{"x":98.5,"y":0,"v":5},{"x":98.5,"y":0.5,"v":5},
{"x":99,"y":0,"v":5},{"x":99,"y":0.5,"v":5},
{"x":99.5,"y":0,"v":5},{"x":99.5,"y":0.5,"v":5},
{"x":5,"y":4,"v":5},{"x":5.5,"y":4,"v":5},{"x":6,"y":3.5,"v":5},{"x":6,"y":4.5,"v":5},{"x":7,"y":4,"v":5},{"x":7.5,"y":4.5,"v":5},{"x":8,"y":4,"v":5},{"x":8.5,"y":3.5,"v":5},{"x":9.5,"y":3.5,"v":5},{"x":9.5,"y":4.5,"v":5},
{"x":10,"y":3.5,"v":5},{"x":10.5,"y":4,"v":5},{"x":11,"y":3,"v":5},{"x":11,"y":4.5,"v":5},{"x":12,"y":3.5,"v":5},{"x":12.5,"y":4,"v":5},{"x":13,"y":3,"v":5},{"x":14,"y":3.5,"v":5},{"x":14.5,"y":3,"v":5},{"x":14.5,"y":4.5,"v":5},
{"x":15,"y":3.5,"v":5},{"x":15.5,"y":4,"v":5},{"x":16,"y":3.5,"v":5},{"x":16.5,"y":4.5,"v":5},{"x":17,"y":3.5,"v":5},{"x":18,"y":3,"v":5},{"x":18.5,"y":4,"v":5},{"x":19,"y":3,"v":5},{"x":19.5,"y":3.5,"v":5},{"x":19.5,"y":5,"v":5},
{"x":20,"y":3,"v":5},{"x":20.5,"y":4,"v":5},{"x":21,"y":3,"v":5},{"x":21.5,"y":3.5,"v":5},{"x":22,"y":4,"v":5},{"x":23,"y":3.5,"v":5},{"x":23.5,"y":4.5,"v":5},{"x":24,"y":3.5,"v":5},{"x":24.5,"y":4,"v":5},
{"x":25,"y":3.5,"v":5},{"x":25.5,"y":3,"v":5},{"x":26,"y":4,"v":5},{"x":26.5,"y":3,"v":5},{"x":27.5,"y":3.5,"v":5},{"x":28,"y":3,"v":5},{"x":28.5,"y":4,"v":5},{"x":29,"y":4.5,"v":5},{"x":29.5,"y":3,"v":5},
{"x":30,"y":3,"v":5},{"x":30.5,"y":4,"v":5},{"x":31,"y":3.5,"v":5},{"x":32,"y":3,"v":5},{"x":32.5,"y":4.5,"v":5},{"x":33,"y":3,"v":5},{"x":33.5,"y":3.5,"v":5},{"x":34,"y":4,"v":5},{"x":34.5,"y":3.5,"v":5},
{"x":35,"y":3,"v":5},{"x":35.5,"y":3.5,"v":5},{"x":36,"y":4,"v":5},{"x":36.5,"y":3,"v":5},{"x":37.5,"y":3.5,"v":5},{"x":38,"y":4.5,"v":5},{"x":38.5,"y":3,"v":5},{"x":39,"y":4,"v":5},{"x":39.5,"y":3,"v":5},
{"x":40,"y":3.5,"v":5},{"x":40.5,"y":4.5,"v":5},{"x":41,"y":3,"v":5},{"x":42,"y":4,"v":5},{"x":42.5,"y":3,"v":5},{"x":43,"y":3.5,"v":5},{"x":44,"y":3,"v":5},{"x":44.5,"y":4,"v":5},
{"x":45,"y":3,"v":5},{"x":45.5,"y":4,"v":5},{"x":46,"y":3.5,"v":5},{"x":46.5,"y":3,"v":5},{"x":47.5,"y":4.5,"v":5},{"x":48,"y":3,"v":5},{"x":48.5,"y":3.5,"v":5},{"x":49,"y":4,"v":5},{"x":49.5,"y":3,"v":5},
{"x":50,"y":3.5,"v":5},{"x":50.5,"y":4,"v":5},{"x":51,"y":3,"v":5},{"x":52,"y":3.5,"v":5},{"x":52.5,"y":4.5,"v":5},{"x":53,"y":3.5,"v":5},{"x":54,"y":4,"v":5},{"x":54.5,"y":3,"v":5},
{"x":55,"y":3.5,"v":5},{"x":55.5,"y":3,"v":5},{"x":56,"y":4,"v":5},{"x":57,"y":3,"v":5},{"x":57.5,"y":4.5,"v":5},{"x":58,"y":3.5,"v":5},{"x":59,"y":3.5,"v":5},{"x":59.5,"y":4,"v":5},
{"x":60,"y":3,"v":5},{"x":60.5,"y":3.5,"v":5},{"x":61.5,"y":4,"v":5},{"x":62,"y":3.5,"v":5},{"x":63,"y":3.5,"v":5},{"x":63.5,"y":4.5,"v":5},{"x":64.5,"y":3,"v":5},
{"x":65,"y":3.5,"v":5},{"x":65.5,"y":2.5,"v":5},{"x":66.5,"y":3,"v":5},{"x":67,"y":4,"v":5},{"x":67.5,"y":3,"v":5},{"x":68.5,"y":3.5,"v":5},{"x":69,"y":3,"v":5},{"x":69.5,"y":4.5,"v":5},
{"x":70,"y":3,"v":5},{"x":70.5,"y":2.5,"v":5},{"x":71.5,"y":3.5,"v":5},{"x":72,"y":2.5,"v":5},{"x":73,"y":3,"v":5},{"x":74,"y":4,"v":5},{"x":74.5,"y":2.5,"v":5},
{"x":75,"y":3,"v":5},{"x":76,"y":2.5,"v":5},{"x":76.5,"y":3.5,"v":5},{"x":77.5,"y":2.5,"v":5},{"x":78,"y":3,"v":5},{"x":79,"y":2.5,"v":5},{"x":79.5,"y":2,"v":5},
{"x":80,"y":2.5,"v":5},{"x":81,"y":2,"v":5},{"x":81.5,"y":3,"v":5},{"x":82,"y":1.5,"v":5},{"x":83,"y":2,"v":5},{"x":83.5,"y":1.5,"v":5},{"x":84,"y":2.5,"v":5},{"x":84.5,"y":2,"v":5},
{"x":85.5,"y":1.5,"v":5},{"x":86,"y":1,"v":5},{"x":87,"y":1.5,"v":5},{"x":88,"y":1.5,"v":5},{"x":89,"y":1.5,"v":5},
{"x":90,"y":1.5,"v":5},{"x":91.5,"y":1,"v":5},{"x":92.5,"y":1.5,"v":5},{"x":94,"y":1,"v":5},
{"x":95.5,"y":1,"v":5},{"x":96.5,"y":1.5,"v":5},{"x":97.5,"y":1,"v":5},{"x":98.5,"y":1,"v":5},
{"x":6.5,"y":10,"v":5},{"x":7.5,"y":11.5,"v":5},{"x":14,"y":16,"v":5},{"x":16.5,"y":19,"v":5},{"x":19.5,"y":17,"v":5},{"x":17,"y":9,"v":5},{"x":17.5,"y":9,"v":5},{"x":18.5,"y":8.5,"v":5},{"x":19,"y":8.5,"v":5},
{"x":21.5,"y":10,"v":5},{"x":22,"y":10.5,"v":5},{"x":22,"y":9,"v":5},{"x":23.5,"y":9.5,"v":5},{"x":25,"y":11,"v":5},{"x":27,"y":10,"v":5},{"x":29,"y":12,"v":5},{"x":28.5,"y":8.5,"v":5},{"x":29,"y":8.5,"v":5},
{"x":32,"y":16,"v":5},{"x":32,"y":13.5,"v":5},{"x":32,"y":12.5,"v":5},{"x":43.5,"y":30.5,"v":5},{"x":48,"y":27.5,"v":5},{"x":52,"y":20.5,"v":5},{"x":56.5,"y":19.5,"v":5},{"x":33.5,"y":16,"v":5},
{"x":33,"y":12,"v":5},{"x":35,"y":12,"v":5},{"x":36.5,"y":11.5,"v":5},{"x":39.5,"y":13,"v":5},{"x":42,"y":12,"v":5},{"x":38,"y":9.5,"v":5},{"x":40.5,"y":8.5,"v":5},{"x":42,"y":10,"v":5},{"x":42.5,"y":10,"v":5},
{"x":43.5,"y":11.5,"v":5},{"x":43.5,"y":10,"v":5},{"x":43.5,"y":15,"v":5},{"x":45,"y":16,"v":5},{"x":48,"y":16,"v":5},{"x":45,"y":10,"v":5},{"x":45.5,"y":10,"v":5},{"x":46,"y":11,"v":5},{"x":46.5,"y":11,"v":5},
{"x":47,"y":8.5,"v":5},{"x":50.5,"y":9.5,"v":5},{"x":55.5,"y":13.5,"v":5},{"x":58.5,"y":13.5,"v":5},{"x":60.5,"y":14.5,"v":5},{"x":55.5,"y":8.5,"v":5},{"x":68,"y":12.5,"v":5},
{"x":67,"y":7,"v":5},{"x":69.5,"y":7,"v":5},{"x":70,"y":7,"v":5},{"x":72,"y":6,"v":5},{"x":77,"y":8,"v":5},{"x":77,"y":6.5,"v":5},{"x":75.5,"y":5.5,"v":5},{"x":75.5,"y":5,"v":5},{"x":90,"y":4.5,"v":5},{"x":82,"y":3.5,"v":5},{"x":79,"y":3.5,"v":5},
{"x":31.5,"y":7.5,"v":5},{"x":35,"y":7,"v":5},{"x":39.5,"y":7.5,"v":5},{"x":40.5,"y":7,"v":5},{"x":48.5,"y":7,"v":5},{"x":49.5,"y":7,"v":5},{"x":50.5,"y":7,"v":5},{"x":48,"y":6.5,"v":5},{"x":54,"y":6,"v":5},
{"x":59,"y":7,"v":5},{"x":57,"y":6,"v":5},{"x":58,"y":5,"v":5},{"x":37,"y":6,"v":5},{"x":40.5,"y":5.5,"v":5},{"x":36,"y":5.5,"v":5},{"x":44,"y":5,"v":5},{"x":46,"y":5,"v":5},{"x":46.5,"y":5,"v":5},
{"x":16.5,"y":7,"v":5},{"x":21,"y":7,"v":5},{"x":27,"y":7,"v":5},
{"x":10.5,"y":5.5,"v":5},{"x":12,"y":5,"v":5},{"x":13.5,"y":6,"v":5},{"x":15.5,"y":5.5,"v":5},{"x":18,"y":5.5,"v":5},{"x":20,"y":5,"v":5},{"x":23,"y":6,"v":5},{"x":24.5,"y":5.5,"v":5},{"x":26,"y":5,"v":5},
{"x":28,"y":5.5,"v":5},{"x":30.5,"y":5,"v":5},{"x":34,"y":6,"v":5},{"x":38.5,"y":5,"v":5},{"x":41.5,"y":6,"v":5},{"x":44.5,"y":5.5,"v":5},{"x":47,"y":6,"v":5},{"x":51.5,"y":5,"v":5},{"x":53,"y":5.5,"v":5},
{"x":56,"y":6.5,"v":5},{"x":61,"y":5.5,"v":5},{"x":62.5,"y":5,"v":5},{"x":64,"y":6,"v":5},{"x":66,"y":5,"v":5},{"x":71,"y":5,"v":5},{"x":73.5,"y":4.5,"v":5},{"x":78.5,"y":4,"v":5},{"x":63,"y":7.5,"v":5},
{"x":66.5,"y":7,"v":5},{"x":60,"y":6.5,"v":5},{"x":11.5,"y":6.5,"v":5},{"x":25.5,"y":6.5,"v":5},{"x":30,"y":6.5,"v":5},{"x":73,"y":5.5,"v":5},{"x":76,"y":4.5,"v":5},{"x":78,"y":5,"v":5},{"x":80.5,"y":3.5,"v":5},
{"x":83,"y":3,"v":5},{"x":85,"y":2.5,"v":5},{"x":87.5,"y":2.5,"v":5},{"x":92,"y":2,"v":5},{"x":95,"y":2,"v":5},{"x":97,"y":2,"v":5}
]},
"hconcat":[
{
"width":647,"height":526,
"view":{"stroke":"black","strokeWidth":1},
"layer":[
{"data":{"name":"cells"},
"mark":{"type":"rect","binSpacing":0,"strokeWidth":0.4},
"encoding":{
"x":{"field":"x","type":"quantitative","bin":{"extent":[0,100],"step":0.5},"scale":{"domain":[0,100],"nice":false,"zero":false},
"axis":{"values":[0,2,4,6,8,10,12,14,16,18,20,22,24,26,28,30,32,34,36,38,40,42,44,46,48,50,52,54,56,58,60,62,64,66,68,70,72,74,76,78,80,82,84,86,88,90,92,94,96,98,100],
"tickSize":{"condition":{"test":"datum.value % 10 === 0","value":-16},"value":-8},
"labelExpr":"datum.value % 10 === 0 ? datum.label : ''","labelPadding":23,"title":"pT (GeV/c)","titleAnchor":"end","titlePadding":-7,"format":"d"}},
"y":{"field":"y","type":"quantitative","bin":{"extent":[0,100],"step":0.5},"scale":{"domain":[0,100],"nice":false,"zero":false},
"axis":{"values":[0,2,4,6,8,10,12,14,16,18,20,22,24,26,28,30,32,34,36,38,40,42,44,46,48,50,52,54,56,58,60,62,64,66,68,70,72,74,76,78,80,82,84,86,88,90,92,94,96,98,100],
"tickSize":{"condition":{"test":"datum.value % 10 === 0","value":-21},"value":-11},
"labelExpr":"datum.value % 10 === 0 ? datum.label : ''","labelPadding":29,"title":"Σ pT\u00a0 (GeV/c)","titleAnchor":"end","titlePadding":9,"format":"d"}},
"color":{"field":"v","type":"quantitative","scale":{"type":"threshold","domain":[12.5,25,37.5,50,62.5,75,87.5,100,112.5,125,137.5,150,162.5,175,187.5,200,212.5,225,237.5],"range":["#6200ff","#3300ff","#0014ff","#0044ff","#008bff","#00bbff","#00fffc","#00ffcc","#00ff85","#00ff55","#00ff0e","#22ff00","#69ff00","#99ff00","#e0ff00","#ffee00","#ffa700","#ff7700","#ff3000","#ff0000"]},"legend":null},
"stroke":{"field":"v","type":"quantitative","scale":{"type":"threshold","domain":[12.5,25,37.5,50,62.5,75,87.5,100,112.5,125,137.5,150,162.5,175,187.5,200,212.5,225,237.5],"range":["#6200ff","#3300ff","#0014ff","#0044ff","#008bff","#00bbff","#00fffc","#00ffcc","#00ff85","#00ff55","#00ff0e","#22ff00","#69ff00","#99ff00","#e0ff00","#ffee00","#ffa700","#ff7700","#ff3000","#ff0000"]},"legend":null}
}},
{"data":{"values":[{}]},
"mark":{"type":"rect","color":"#555555"},
"encoding":{"x":{"datum":31.3,"type":"quantitative"},"x2":{"datum":65.8},"y":{"datum":89.3,"type":"quantitative"},"y2":{"datum":99.2}}},
{"data":{"values":[{}]},
"mark":{"type":"rect","fill":"#efefef","stroke":"black","strokeWidth":1},
"encoding":{"x":{"datum":30.9,"type":"quantitative"},"x2":{"datum":65.4},"y":{"datum":89.7,"type":"quantitative"},"y2":{"datum":99.6}}},
{"data":{"values":[{}]},
"mark":{"type":"text","font":"Liberation Sans","fontWeight":"bold","fontSize":14.5,"color":"black","align":"center","baseline":"middle"},
"encoding":{"x":{"datum":48.1,"type":"quantitative"},"y":{"datum":96.6,"type":"quantitative"},"text":{"value":"Entries: 60057"}}},
{"data":{"values":[{}]},
"mark":{"type":"text","font":"Liberation Sans","fontWeight":"bold","fontSize":14.5,"color":"black","align":"center","baseline":"middle"},
"encoding":{"x":{"datum":48.1,"type":"quantitative"},"y":{"datum":92.0,"type":"quantitative"},"text":{"value":"<Σ pT> = 0.14 (GeV/c)"}}}
]
},
{
"width":38,"height":526,
"view":{"stroke":null},
"title":{"text":"×10⁻⁹","anchor":"start","dx":33,"fontSize":16,"offset":-3,"font":"Liberation Sans","fontWeight":"normal","color":"black"},
"data":{"name":"levels"},
"mark":{"type":"rect","binSpacing":0},
"encoding":{
"y":{"field":"v","type":"quantitative","bin":{"extent":[0,250],"step":12.5},"scale":{"domain":[0,250],"nice":false,"zero":false},
"axis":{"orient":"right","values":[0,20,40,60,80,100,120,140,160,180,200,220,240],"tickSize":-19,"labelExpr":"toString(datum.value/1000)","labelPadding":22,"title":null,"domainColor":"black"}},
"color":{"field":"v","type":"quantitative","scale":{"type":"threshold","domain":[12.5,25,37.5,50,62.5,75,87.5,100,112.5,125,137.5,150,162.5,175,187.5,200,212.5,225,237.5],"range":["#6200ff","#3300ff","#0014ff","#0044ff","#008bff","#00bbff","#00fffc","#00ffcc","#00ff85","#00ff55","#00ff0e","#22ff00","#69ff00","#99ff00","#e0ff00","#ffee00","#ffa700","#ff7700","#ff3000","#ff0000"]},"legend":null}
}
}
]
}
